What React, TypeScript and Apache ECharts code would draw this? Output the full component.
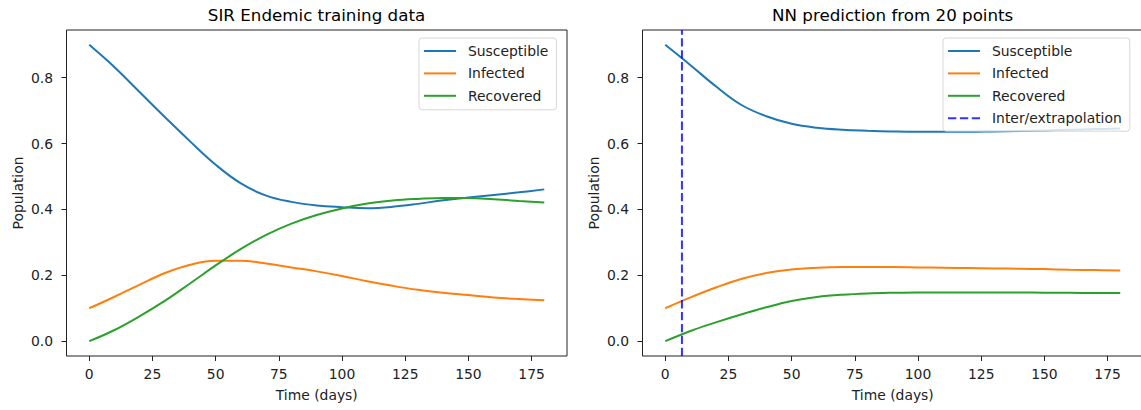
import React, { useEffect, useRef } from "react";
import * as echarts from "echarts";

// ---- data ----
const days = [0, 10, 20, 30, 40, 50, 60, 70, 80, 90, 100, 110, 120, 130, 140, 150, 160, 170, 180];

const trainSusceptible = [0.9, 0.832, 0.756, 0.68, 0.606, 0.536, 0.479, 0.442, 0.423, 0.412, 0.407, 0.404, 0.408, 0.417, 0.428, 0.436, 0.444, 0.452, 0.461];
const trainInfected = [0.1, 0.135, 0.172, 0.207, 0.232, 0.244, 0.244, 0.236, 0.224, 0.212, 0.198, 0.182, 0.168, 0.156, 0.147, 0.14, 0.133, 0.128, 0.124];
const trainRecovered = [0.0, 0.034, 0.076, 0.123, 0.176, 0.23, 0.28, 0.323, 0.357, 0.383, 0.403, 0.418, 0.427, 0.432, 0.435, 0.435, 0.431, 0.426, 0.421];

const predSusceptible = [0.9, 0.838, 0.774, 0.718, 0.683, 0.66, 0.648, 0.642, 0.639, 0.637, 0.636, 0.636, 0.636, 0.637, 0.638, 0.64, 0.642, 0.644, 0.646];
const predInfected = [0.1, 0.133, 0.163, 0.189, 0.207, 0.218, 0.223, 0.225, 0.225, 0.225, 0.224, 0.223, 0.222, 0.221, 0.22, 0.219, 0.217, 0.216, 0.215];
const predRecovered = [0.0, 0.031, 0.057, 0.081, 0.103, 0.122, 0.134, 0.141, 0.145, 0.147, 0.148, 0.148, 0.148, 0.148, 0.148, 0.147, 0.147, 0.146, 0.146];

const splitDay = 6.6;

const xTicks = [0, 25, 50, 75, 100, 125, 150, 175];
const yTicks = [0, 0.2, 0.4, 0.6, 0.8];

const seriesNames = ["Susceptible", "Infected", "Recovered"];
const splitName = "Inter/extrapolation";
const titles = ["SIR Endemic training data", "NN prediction from 20 points"];

// ---- styling ----
const FONT = "DejaVu Sans";
const TXT = "#222";
const COLORS = ["#1f77b4", "#ff7f0e", "#2ca02c"];

const pair = (ys: number[]) => days.map((d, i) => [d, ys[i]]);

const App: React.FC = () => {
  const ref = useRef<HTMLDivElement | null>(null);

  useEffect(() => {
    if (!ref.current) return;
    const chart = echarts.init(ref.current, null, { renderer: "svg" });

    const mkX = (gi: number) => ({
      type: "value",
      gridIndex: gi,
      min: -9,
      max: 189,
      splitLine: { show: false },
      axisLine: { show: false, onZero: false },
      axisTick: { show: true, length: 5, customValues: xTicks, lineStyle: { color: TXT, width: 1 } },
      axisLabel: { customValues: xTicks, margin: 11, fontSize: 13.9, fontFamily: FONT, color: TXT },
      name: "Time (days)",
      nameLocation: "middle",
      nameGap: 32,
      nameTextStyle: { fontSize: 13.9, fontFamily: FONT, color: TXT },
    });
    const mkY = (gi: number) => ({
      type: "value",
      gridIndex: gi,
      min: -0.045,
      max: 0.945,
      splitLine: { show: false },
      axisLine: { show: false, onZero: false },
      axisTick: { show: true, length: 5, customValues: yTicks, lineStyle: { color: TXT, width: 1 } },
      axisLabel: {
        customValues: yTicks,
        margin: 13.5,
        fontSize: 13.9,
        fontFamily: FONT,
        color: TXT,
        formatter: (v: number) => v.toFixed(1),
      },
      name: "Population",
      nameLocation: "middle",
      nameGap: 42,
      nameTextStyle: { fontSize: 13.9, fontFamily: FONT, color: TXT },
    });

    const mkLegend = (left: number, names: string[], padding: number[]) => ({
      orient: "vertical",
      left,
      top: 38,
      data: names,
      selectedMode: false,
      itemWidth: 32,
      itemHeight: 14,
      itemGap: 8.4,
      padding,
      backgroundColor: "rgba(255,255,255,0.8)",
      borderColor: "rgba(204,204,204,0.8)",
      borderWidth: 1,
      borderRadius: 3,
      itemStyle: { color: "rgba(0,0,0,0)", borderWidth: 0, opacity: 0 },
      textStyle: { fontSize: 13.9, fontFamily: FONT, color: TXT, lineHeight: 14, padding: [0, 0, 0, 7] },
    });

    const lineSeries = (name: string, ys: number[], idx: number, gi: number) => ({
      type: "line",
      name,
      xAxisIndex: gi,
      yAxisIndex: gi,
      data: pair(ys),
      symbol: "none",
      smooth: 0.4,
      lineStyle: { color: COLORS[idx], width: 2 },
      itemStyle: { color: COLORS[idx] },
      z: 2,
    });

    const option: any = {
      animation: false,
      backgroundColor: "#fff",
      title: [
        {
          text: titles[0],
          left: 316.5,
          top: 6,
          textAlign: "center",
          padding: 0,
          textStyle: { fontSize: 16.7, fontWeight: "normal", fontFamily: FONT, color: "#000" },
        },
        {
          text: titles[1],
          left: 892.7,
          top: 6,
          textAlign: "center",
          padding: 0,
          textStyle: { fontSize: 16.7, fontWeight: "normal", fontFamily: FONT, color: "#000" },
        },
      ],
      grid: [
        { left: 66.5, top: 30, width: 500.5, height: 326, show: true, borderColor: TXT, borderWidth: 1, outerBoundsMode: "none", containLabel: false },
        { left: 642.5, top: 30, width: 500.5, height: 326, show: true, borderColor: TXT, borderWidth: 1, outerBoundsMode: "none", containLabel: false },
      ],
      xAxis: [mkX(0), mkX(1)],
      yAxis: [mkY(0), mkY(1)],
      legend: [
        mkLegend(419, seriesNames, [6, 8, 7, 4]),
        mkLegend(943, [...seriesNames, splitName], [6, 8, 6, 4]),
      ],
      series: [
        lineSeries(seriesNames[0], trainSusceptible, 0, 0),
        lineSeries(seriesNames[1], trainInfected, 1, 0),
        lineSeries(seriesNames[2], trainRecovered, 2, 0),
        lineSeries(seriesNames[0], predSusceptible, 0, 1),
        lineSeries(seriesNames[1], predInfected, 1, 1),
        lineSeries(seriesNames[2], predRecovered, 2, 1),
        {
          type: "line",
          name: splitName,
          xAxisIndex: 1,
          yAxisIndex: 1,
          data: [
            [splitDay, -0.045],
            [splitDay, 0.945],
          ],
          symbol: "none",
          lineStyle: { color: "rgba(0,0,255,0.8)", width: 2, type: [8.3, 3.6] },
          itemStyle: { color: "rgba(0,0,255,0.8)" },
          z: 3,
        },
      ],
    };

    chart.setOption(option);
    return () => chart.dispose();
  }, []);

  return (
    <div
      ref={ref}
      style={{ position: "fixed", left: 0, top: 0, width: 1141, height: 410, background: "#fff" }}
    />
  );
};

export default App;
